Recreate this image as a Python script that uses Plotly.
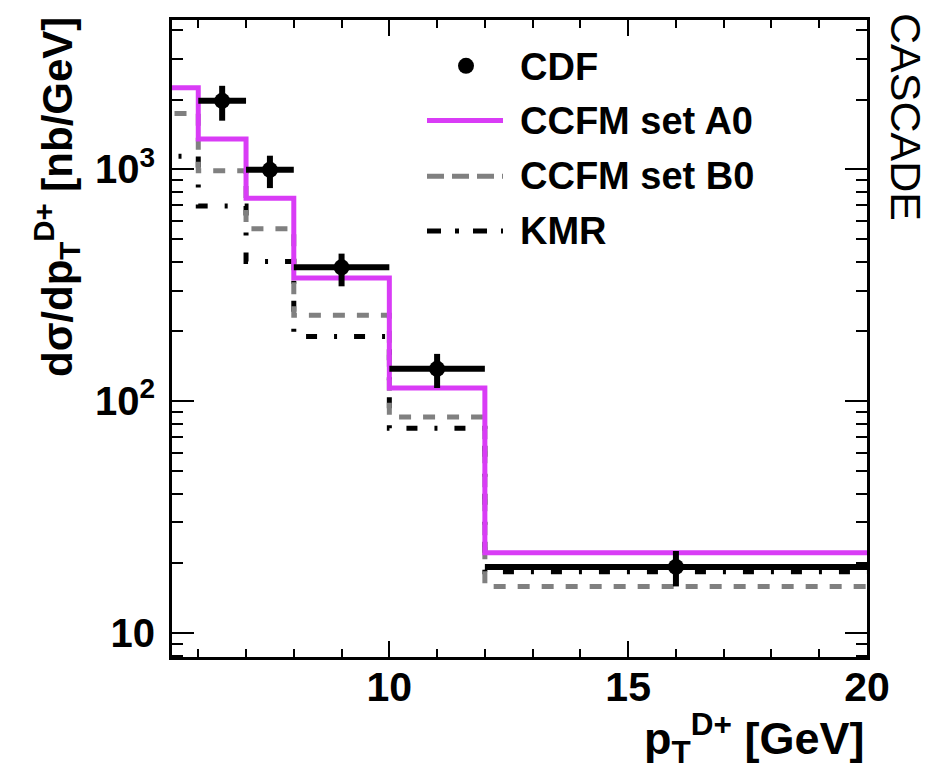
import plotly.graph_objects as go

# ---- data ----
bin_edges = [5, 6, 7, 8, 10, 12, 20]
ccfm_a0 = [2250, 1350, 750, 340, 114, 22.2]
ccfm_b0 = [1740, 985, 555, 235, 85.5, 15.9]
kmr = [1140, 695, 400, 190, 76.5, 18.4]

cdf_x = [6.5, 7.5, 9, 11, 16]
cdf_xerr = [0.5, 0.5, 1, 1, 4]
cdf_y = [1975, 995, 378, 138, 19.3]
cdf_err_plus = [317, 150, 55, 22, 3.3]
cdf_err_minus = [354, 165, 65, 24, 3.4]

y_tickvals = [10, 100, 1000]
y_ticktext = ["10", "10<sup>2</sup>", "10<sup>3</sup>"]
y_minor = [8, 9, 20, 30, 40, 50, 60, 70, 80, 90,
           200, 300, 400, 500, 600, 700, 800, 900, 2000, 3000, 4000]

FONT = "Liberation Sans, Arial, Helvetica, sans-serif"
MAGENTA = "#d93cf6"
GREY = "#808080"

fig = go.Figure()

def hist_trace(vals, color, dash, name):
    return go.Scatter(
        x=bin_edges, y=list(vals) + [vals[-1]], mode="lines", line_shape="hv",
        line=dict(color=color, width=5, dash=dash), name=name, showlegend=False)

fig.add_trace(hist_trace(kmr, "black", "11px,17px,3px,17px", "KMR"))
fig.add_trace(hist_trace(ccfm_b0, GREY, "12px,12px", "CCFM set B0"))
fig.add_trace(hist_trace(ccfm_a0, MAGENTA, "solid", "CCFM set A0"))

fig.add_trace(go.Scatter(
    x=cdf_x, y=cdf_y, mode="markers", name="CDF", showlegend=False,
    marker=dict(color="black", size=16, symbol="circle"),
    error_x=dict(type="data", array=cdf_xerr, color="black", thickness=6, width=0),
    error_y=dict(type="data", array=cdf_err_plus, arrayminus=cdf_err_minus,
                 color="black", thickness=6, width=0),
))

# ---- geometry (page pixels; the page body has an 8px margin) ----
OFF = 8
W, H = 939 - OFF, 778 - OFF
L, R, T, B = 172, 867, 17, 657
def px(xp):
    return (xp - L) / (R - L)
def py(yp):
    return (B - yp) / (B - T)

# ---- manual legend ----
legend_items = [
    ("CDF", 64, None, None),
    ("CCFM set A0", 118, MAGENTA, "solid"),
    ("CCFM set B0", 174, GREY, "17px,8px"),
    ("KMR", 229, "black", "14px,14px,4px,14px"),
]
for label, yy, col, dash in legend_items:
    if col is None:
        fig.add_shape(type="circle", xref="paper", yref="paper",
                      x0=px(458), x1=px(474), y0=py(71), y1=py(55),
                      fillcolor="black", line=dict(color="black", width=0))
    else:
        fig.add_shape(type="line", xref="paper", yref="paper",
                      x0=px(427), x1=px(503), y0=py(yy), y1=py(yy),
                      line=dict(color=col, width=5, dash=dash))
    fig.add_annotation(text=label, xref="paper", yref="paper", x=px(518), y=py(yy),
                       xanchor="left", yanchor="middle", showarrow=False,
                       font=dict(family=FONT, size=38, color="black", weight="bold"))

# ---- titles ----
fig.add_annotation(text="dσ/dp<sub>T</sub><sup>D+</sup> [nb/GeV]", xref="paper", yref="paper",
                   x=px(56), y=py(12), xanchor="center", yanchor="top", textangle=-90,
                   showarrow=False,
                   font=dict(family=FONT, size=42, color="black", weight="bold"))
fig.add_annotation(text="p<sub>T</sub><sup>D+</sup> [GeV]", xref="paper", yref="paper",
                   x=px(866), y=py(738), xanchor="right", yanchor="middle",
                   showarrow=False,
                   font=dict(family=FONT, size=45, color="black", weight="bold"))
fig.add_annotation(text="CASCADE", xref="paper", yref="paper",
                   x=px(906), y=py(8), xanchor="center", yanchor="top", textangle=90,
                   showarrow=False,
                   font=dict(family=FONT, size=43, color="black"))

fig.update_layout(
    width=W, height=H,
    margin=dict(l=L - OFF, r=(W + OFF) - R, t=T - OFF, b=(H + OFF) - B),
    paper_bgcolor="white", plot_bgcolor="white",
    showlegend=False,
    font=dict(family=FONT, color="black"),
)
fig.update_xaxes(
    range=[5.45, 20], tick0=0, dtick=5,
    showline=True, linecolor="black", linewidth=3, mirror="ticks",
    ticks="inside", ticklen=16, tickwidth=2, tickcolor="black",
    minor=dict(dtick=1, ticks="inside", ticklen=8, tickwidth=2, tickcolor="black"),
    showgrid=False, zeroline=False,
    tickfont=dict(family=FONT, size=41, color="black", weight="bold"),
    ticklabelstandoff=-8,
)
fig.update_yaxes(
    type="log", range=[0.897, 3.644],
    tickvals=y_tickvals, ticktext=y_ticktext,
    showline=True, linecolor="black", linewidth=3, mirror="ticks",
    ticks="inside", ticklen=22, tickwidth=2, tickcolor="black",
    minor=dict(tickvals=y_minor, ticks="inside", ticklen=11, tickwidth=2, tickcolor="black"),
    showgrid=False, zeroline=False,
    tickfont=dict(family=FONT, size=40, color="black", weight="bold"),
    ticklabelstandoff=6,
)

fig.write_html("out.html")
